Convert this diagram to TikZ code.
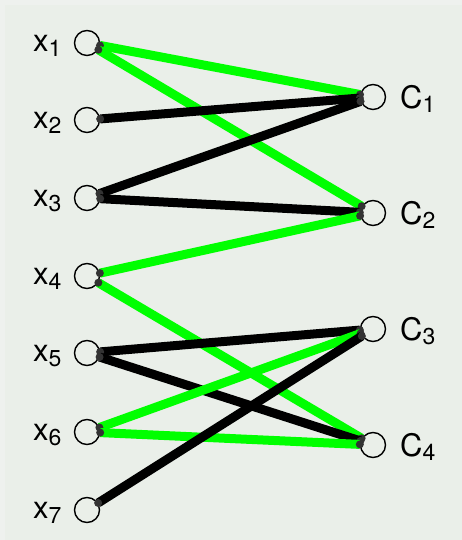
\documentclass[tikz,border=0pt]{standalone}
\usepackage{fontspec}
\setmainfont{TeX Gyre Heros}
\definecolor{bgout}{HTML}{EEF1EE}
\definecolor{bgin}{HTML}{EAEFE9}
\definecolor{edgegreen}{HTML}{00FF00}
\definecolor{dotgray}{HTML}{333333}
\begin{document}
\begin{tikzpicture}[x=1pt,y=1pt,
  vert/.style={circle,draw=black,line width=1.4pt,minimum size=25pt,inner sep=0pt},
  lbl/.style={font=\fontsize{31}{33}\selectfont,inner sep=0pt,anchor=base west},
  gedge/.style={draw=edgegreen,line width=9pt},
  bedge/.style={draw=black,line width=9pt},
  enddot/.style={fill=dotgray,circle,inner sep=0pt,minimum size=8pt}]
\fill[bgout] (0,0) rectangle (462,540);
\fill[bgin] (5,0) rectangle (462,535);
\useasboundingbox (0,0) rectangle (462,540);
% x nodes
\foreach \i/\y in {1/497,2/420,3/342,4/264,5/187,6/108,7/30}{
  \node[vert] (x\i) at (87,\y) {};
  \node[lbl] (lx\i) at (33,\y-9) {x\raisebox{-5pt}{\fontsize{23}{24}\selectfont\i}};
}
% C nodes
\foreach \i/\y in {1/443,2/327,3/211,4/95}{
  \node[vert] (c\i) at (373,\y) {};
  \node[lbl] (lc\i) at (400,\y-12) {C\raisebox{-4pt}{\fontsize{23}{24}\selectfont\i}};
}
% edges
\foreach \a/\b/\s in {x1/c1/gedge,x1/c2/gedge,x2/c1/bedge,x3/c1/bedge,x3/c2/bedge,
  x4/c2/gedge,x4/c4/gedge,x5/c3/bedge,x5/c4/bedge,x6/c3/gedge,x6/c4/gedge,x7/c3/bedge}{
  \path[\s] (\a) -- (\b) coordinate[pos=0] (s) coordinate[pos=1] (e);
  \node[enddot] at (s) {};
  \node[enddot] at (e) {};
}
\end{tikzpicture}
\end{document}
